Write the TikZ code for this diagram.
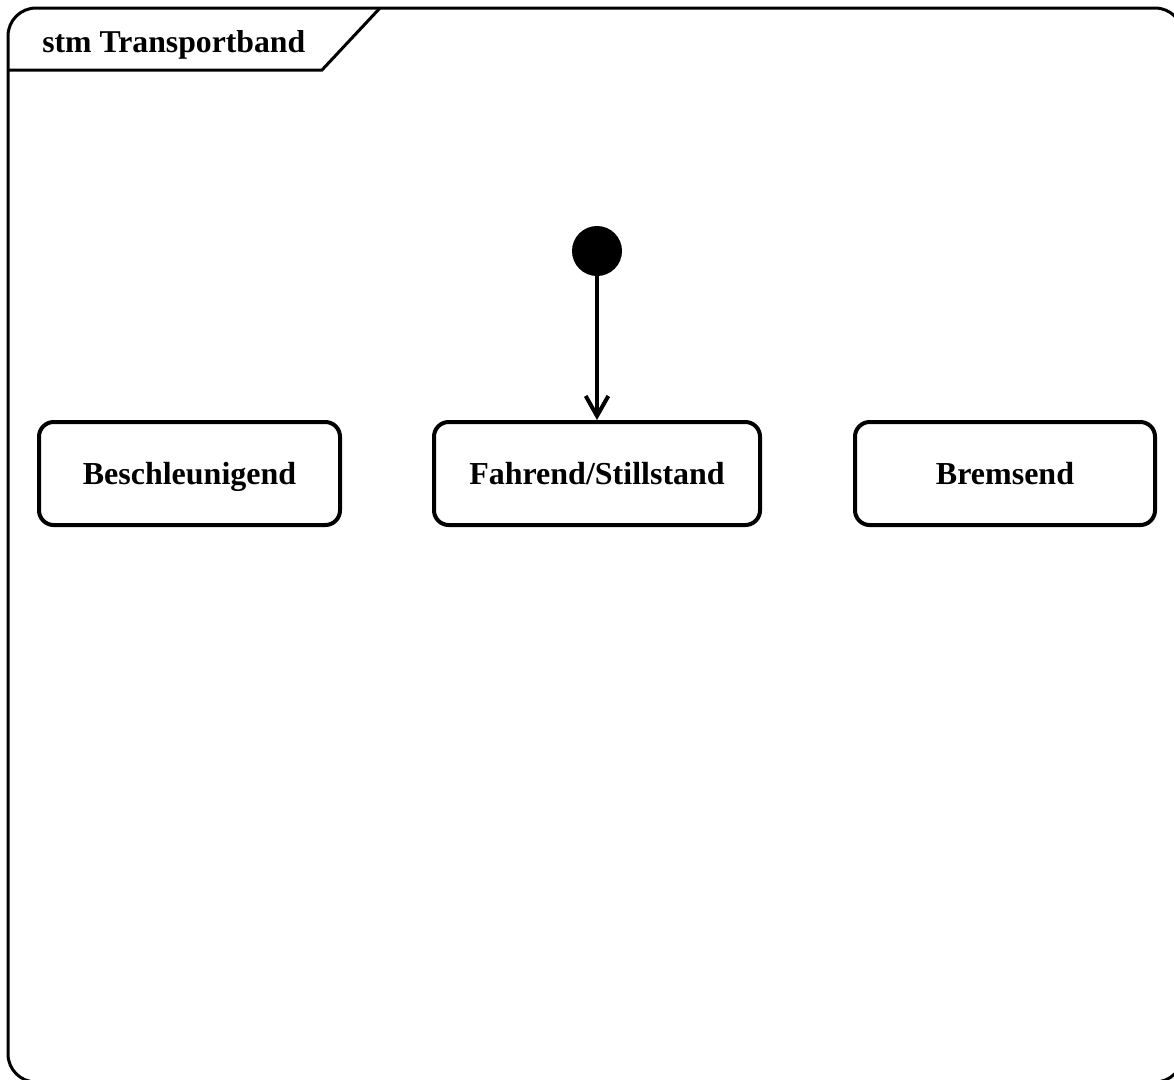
\documentclass[tikz,border=0pt]{standalone}
\usepackage{fontspec}
\setmainfont{Liberation Serif}
\usetikzlibrary{arrows.meta}
\begin{document}
\begin{tikzpicture}[x=0.75pt,y=-0.75pt,
  statebox/.style={draw, line width=3pt, rounded corners=11pt, minimum height=77.25pt, inner sep=0pt, text height=17pt, text depth=1.2pt, font=\fontsize{24}{28}\selectfont\bfseries},
  initstate/.style={circle, fill=black, draw=none, minimum size=37.5pt, inner sep=0pt},
  framepath/.style={line width=2.25pt},
  trans/.style={line width=3pt, -{Straight Barb[length=15pt, width=17pt, line width=3pt]}}]
\useasboundingbox (0,0) rectangle (1174,1079);
\draw[framepath, rounded corners=21pt] (8,8) rectangle (1183,1082);
\coordinate (tabA) at (8,70);
\coordinate (tabB) at (322,70);
\coordinate (tabC) at (380,8);
\draw[framepath] (tabA) -- (tabB) -- (tabC);
\node[anchor=base west, font=\fontsize{23.8}{28}\selectfont\bfseries, inner sep=0pt] (title) at (42,52) {stm Transportband};
\node[initstate] (init) at (597,251) {};
\node[statebox, minimum width=225.75pt] (besch) at (189.5,473.5) {Beschleunigend};
\node[statebox, minimum width=244.5pt] (fahr) at (597,473.5) {Fahrend/Stillstand};
\node[statebox, minimum width=225pt] (brems) at (1005,473.5) {Bremsend};
\draw[trans] (init) -- (fahr.north);
\end{tikzpicture}
\end{document}
